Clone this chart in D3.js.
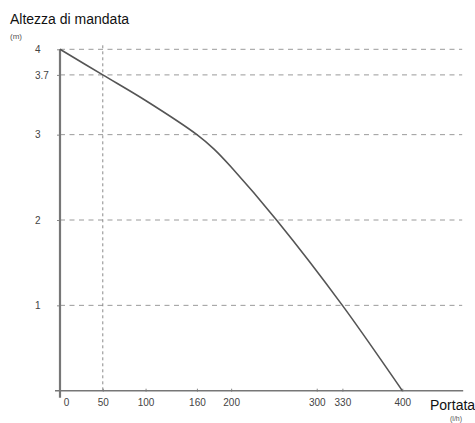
<!DOCTYPE html>
<html lang="it">
<head>
<meta charset="UTF-8" />
<script src="https://cdnjs.cloudflare.com/ajax/libs/d3/7.8.5/d3.min.js"></script>
<style>
  body { margin: 0; background: #fff; }
  svg { display: block; font-family: 'Liberation Sans', Arial, sans-serif; }
</style>
</head>
<body>
<div class="chart"></div>
<script>
// curva portata / altezza di mandata
const portata = [0, 50, 100, 160, 180, 200, 253, 330, 400]
const altezza = [4, 3.7, 3.4, 3.0, 2.83, 2.62, 2.0, 1.0, 0]
const xTicks = [0, 50, 100, 160, 200, 300, 330, 400]
const yTicks = [1, 2, 3, 3.7, 4]
const xGuide = [50]

const width = 475
const height = 423

const svg = d3.select('.chart').append('svg')
  .attr('width', width)
  .attr('height', height)

const x = d3.scaleLinear().domain([0, 400]).range([60, 402.3])
const y = d3.scaleLinear().domain([0, 4]).range([390.7, 49.3])
const xEnd = 470

// griglia orizzontale tratteggiata
svg.append('g').selectAll('line').data(yTicks).join('line')
  .attr('x1', x(0)).attr('x2', x(xEnd))
  .attr('y1', d => y(d)).attr('y2', d => y(d))
  .attr('stroke', '#9a9a9a')
  .attr('stroke-width', 1)
  .attr('stroke-dasharray', '5,4.5')

// linea verticale a 50
svg.append('g').selectAll('line').data(xGuide).join('line')
  .attr('x1', d => x(d)).attr('x2', d => x(d))
  .attr('y1', y(4) - 4).attr('y2', y(0))
  .attr('stroke', '#8a8a8a')
  .attr('stroke-width', 1)
  .attr('stroke-dasharray', '3,3')

// asse x
const xAxis = svg.append('g')
  .attr('transform', `translate(0, ${y(0)})`)
  .call(d3.axisBottom(x).tickValues(xTicks).tickSize(3).tickSizeOuter(0))
xAxis.select('.domain').remove()
xAxis.append('line')
  .attr('x1', x(0) - 5).attr('x2', x(xEnd) + 1)
  .attr('stroke', '#777').attr('stroke-width', 1.5)
xAxis.selectAll('.tick line').attr('stroke', '#888').attr('y1', -2).attr('y2', 1)
xAxis.selectAll('.tick text')
  .attr('y', 8)
  .attr('dx', d => d === 0 ? 6 : 0)
  .style('font-size', '10px')
  .style('fill', '#444')
  .style('font-family', "'Liberation Sans', Arial, sans-serif")

// asse y
const yAxis = svg.append('g')
  .attr('transform', `translate(${x(0)}, 0)`)
  .call(d3.axisLeft(y).tickValues(yTicks).tickFormat(d3.format('~g')).tickSize(3).tickSizeOuter(0))
yAxis.select('.domain').remove()
yAxis.append('line')
  .attr('y1', y(4)).attr('y2', y(0) + 7)
  .attr('stroke', '#777').attr('stroke-width', 2.2)
yAxis.selectAll('.tick line').attr('stroke', '#888')
yAxis.selectAll('.tick text')
  .attr('x', -25)
  .attr('text-anchor', 'start')
  .style('font-size', '10px')
  .style('fill', '#444')
  .style('font-family', "'Liberation Sans', Arial, sans-serif")

// curva
const line = d3.line()
  .x((d, i) => x(portata[i]))
  .y(d => y(d))
  .curve(d3.curveCatmullRom.alpha(0.5))

svg.append('path')
  .datum(altezza)
  .attr('d', line)
  .attr('fill', 'none')
  .attr('stroke', '#555')
  .attr('stroke-width', 1.6)

// titoli
svg.append('text').attr('x', 10).attr('y', 24)
  .style('font-size', '14px').style('fill', '#111')
  .text('Altezza di mandata')
svg.append('text').attr('x', 10).attr('y', 39)
  .style('font-size', '8px').style('fill', '#555')
  .text('(m)')
svg.append('text').attr('x', 430).attr('y', 410)
  .style('font-size', '14px').style('fill', '#111')
  .text('Portata')
svg.append('text').attr('x', 450).attr('y', 421)
  .style('font-size', '7px').style('fill', '#555')
  .text('(l/h)')
</script>
</body>
</html>
